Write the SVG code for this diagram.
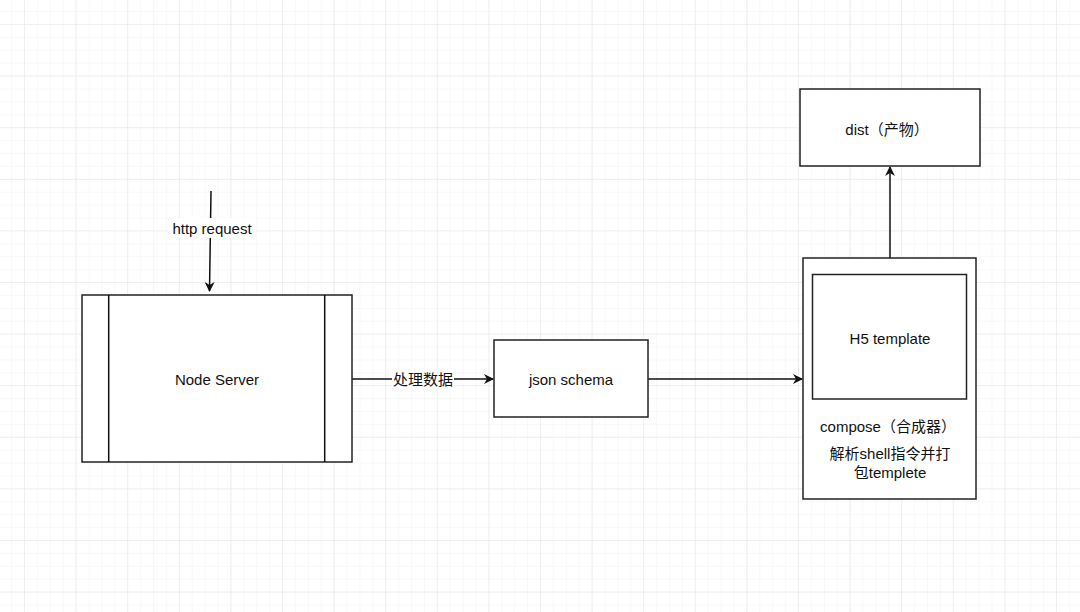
<svg xmlns="http://www.w3.org/2000/svg" width="1080" height="612" viewBox="0 0 1080 612">
<defs>
<pattern id="minor" x="11.1" y="11.1" width="12.9" height="12.9" patternUnits="userSpaceOnUse">
<path d="M0 0H12.9M0 0V12.9" fill="none" stroke="#f2f2f2" stroke-width="1"/>
</pattern>
<pattern id="major" x="24" y="24" width="51.6" height="51.6" patternUnits="userSpaceOnUse">
<path d="M0 0H51.6M0 0V51.6" fill="none" stroke="#e6e6e6" stroke-width="1"/>
</pattern>
<marker id="arr" viewBox="0 0 10 10" refX="9" refY="5" markerWidth="10" markerHeight="10" markerUnits="userSpaceOnUse" orient="auto">
<path d="M0 0L10 5L0 10L3 5Z" fill="#111"/>
</marker>
</defs>
<style>
.box{fill:#fff;stroke:#222;stroke-width:1.5}
.ln{fill:none;stroke:#111;stroke-width:1.5}
.t{font-family:"Liberation Sans","Noto Sans CJK SC",sans-serif;font-size:15px;fill:#111;text-anchor:middle;dominant-baseline:central}
</style>
<rect width="1080" height="612" fill="#fff"/>
<rect width="1080" height="612" fill="url(#minor)"/>
<rect width="1080" height="612" fill="url(#major)"/>
<g id="connectors">
<line class="ln" x1="211" y1="191" x2="209.5" y2="291" marker-end="url(#arr)"/>
<rect x="168" y="218" width="88" height="20" fill="#fff"/>
<text class="t" x="212" y="228">http request</text>
<line class="ln" x1="352" y1="379" x2="493" y2="379" marker-end="url(#arr)"/>
<rect x="392" y="369" width="62" height="20" fill="#fff"/>
<text class="t" x="423" y="379">处理数据</text>
<line class="ln" x1="648" y1="379" x2="802" y2="379" marker-end="url(#arr)"/>
<line class="ln" x1="890" y1="258" x2="890" y2="167" marker-end="url(#arr)"/>
</g>
<g id="node-server">
<rect class="box" x="82" y="295" width="270" height="167"/>
<line class="ln" x1="108.7" y1="295" x2="108.7" y2="462"/>
<line class="ln" x1="324.7" y1="295" x2="324.7" y2="462"/>
<text class="t" x="217" y="379">Node Server</text>
</g>
<g id="json-schema">
<rect class="box" x="494" y="340" width="154" height="77"/>
<text class="t" x="571" y="379">json schema</text>
</g>
<g id="compose">
<rect class="box" x="803" y="258" width="173" height="241"/>
<text class="t" x="888" y="426">compose（合成器）</text>
<text class="t" x="890" y="453">解析shell指令并打</text>
<text class="t" x="890" y="472">包templete</text>
</g>
<g id="h5-template">
<rect class="box" x="812.5" y="274.5" width="154" height="124.5"/>
<text class="t" x="890" y="338">H5 template</text>
</g>
<g id="dist">
<rect class="box" x="800" y="89" width="180" height="77"/>
<text class="t" x="887" y="129">dist（产物）</text>
</g>
</svg>
